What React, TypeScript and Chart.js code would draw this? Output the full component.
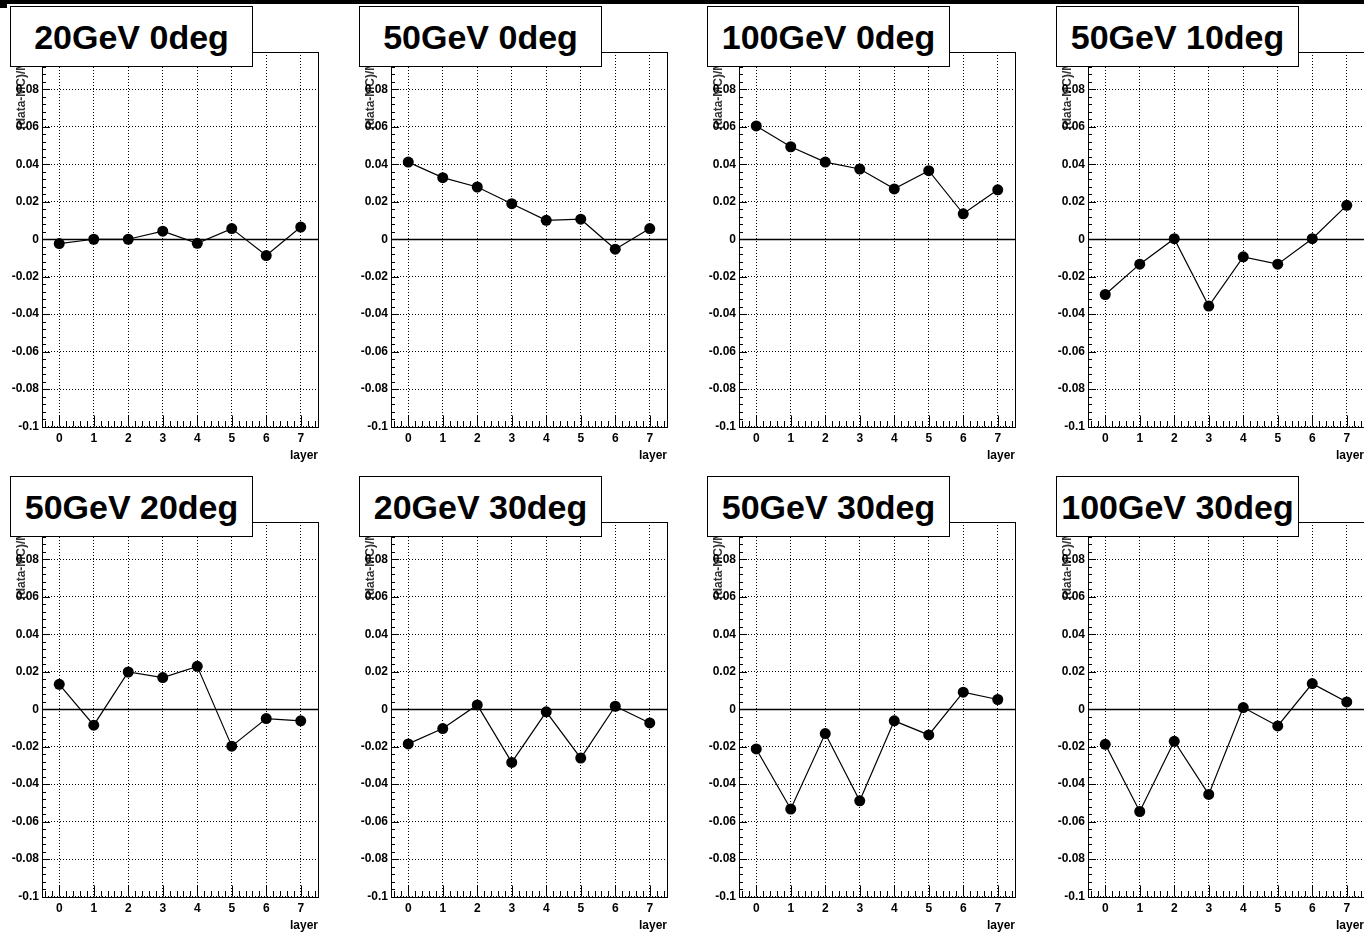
import React, { useEffect, useRef } from "react";
import { Chart, registerables } from "chart.js";

Chart.register(...registerables);
Chart.defaults.font.family = "'Liberation Sans', Arial, Helvetica, sans-serif";

// ---- data ----
const LAYERS = [0, 1, 2, 3, 4, 5, 6, 7];
const TITLES = [
  "20GeV 0deg",
  "50GeV 0deg",
  "100GeV 0deg",
  "50GeV 10deg",
  "50GeV 20deg",
  "20GeV 30deg",
  "50GeV 30deg",
  "100GeV 30deg",
];
const E20_DEG0 = [-0.0023, 0.0, 0.0, 0.0043, -0.0022, 0.0057, -0.0087, 0.0065];
const E50_DEG0 = [0.0412, 0.0329, 0.0279, 0.019, 0.0101, 0.0107, -0.0053, 0.0057];
const E100_DEG0 = [0.0605, 0.0494, 0.0412, 0.0375, 0.0269, 0.0366, 0.0136, 0.0264];
const E50_DEG10 = [-0.0295, -0.0133, 0.0003, -0.0357, -0.0094, -0.0133, 0.0003, 0.0181];
const E50_DEG20 = [0.0133, -0.0085, 0.0199, 0.0169, 0.0229, -0.0197, -0.005, -0.0062];
const E20_DEG30 = [-0.0185, -0.0103, 0.0023, -0.0284, -0.0014, -0.0261, 0.0016, -0.0073];
const E50_DEG30 = [-0.0212, -0.0533, -0.013, -0.0489, -0.0062, -0.0137, 0.0091, 0.0052];
const E100_DEG30 = [-0.0187, -0.0546, -0.0171, -0.0455, 0.0009, -0.0089, 0.0137, 0.0039];
const SERIES = [E20_DEG0, E50_DEG0, E100_DEG0, E50_DEG10, E50_DEG20, E20_DEG30, E50_DEG30, E100_DEG30];

const Y_MIN = -0.1;
const Y_MAX = 0.1;
const Y_STEP = 0.02;
const Y_MINOR = 0.004;
const X_MIN = -0.5;
const X_MAX = 7.5;
const X_MINOR = 0.2;
const X_TITLE = "layer";
const Y_TITLE = "(data-MC)/MC";

// ---- layout ----
const PANEL_W = 349;
const PANEL_PITCH_X = 348.7;
const PANEL_H = 470;

const rootFramePlugin = {
  id: "rootFrame",
  beforeDatasetsDraw(chart: any) {
    const { ctx, chartArea: a, scales } = chart;
    const y = scales.y;
    const yz = Math.round(y.getPixelForValue(0)) + 0.5;
    ctx.save();
    ctx.strokeStyle = "#000";
    ctx.lineWidth = 1.5;
    ctx.beginPath();
    ctx.moveTo(a.left, yz);
    ctx.lineTo(a.right, yz);
    ctx.stroke();
    ctx.restore();
  },
  afterDatasetsDraw(chart: any) {
    const { ctx, chartArea: a, scales } = chart;
    const x = scales.x;
    const y = scales.y;
    ctx.save();
    ctx.strokeStyle = "#000";
    ctx.lineWidth = 1;
    ctx.strokeRect(Math.round(a.left) + 0.5, Math.round(a.top) + 0.5, Math.round(a.right - a.left), Math.round(a.bottom - a.top));
    ctx.beginPath();
    const kx0 = Math.ceil(X_MIN / X_MINOR - 1e-6);
    const kx1 = Math.floor(X_MAX / X_MINOR + 1e-6);
    for (let k = kx0; k <= kx1; k++) {
      const v = k * X_MINOR;
      const px = Math.round(x.getPixelForValue(v)) + 0.5;
      const len = k % 5 === 0 ? 11 : 5.5;
      ctx.moveTo(px, a.bottom);
      ctx.lineTo(px, a.bottom - len);
    }
    const ky0 = Math.ceil(Y_MIN / Y_MINOR - 1e-6);
    const ky1 = Math.floor(Y_MAX / Y_MINOR + 1e-6);
    for (let k = ky0; k <= ky1; k++) {
      const v = k * Y_MINOR;
      const py = Math.round(y.getPixelForValue(v)) + 0.5;
      const len = k % 5 === 0 ? 8 : 4;
      ctx.moveTo(a.left, py);
      ctx.lineTo(a.left + len, py);
    }
    ctx.stroke();
    ctx.restore();
  },
};

function fmt(v: number) {
  const s = String(parseFloat(Number(v).toFixed(3)));
  return s === "-0" ? "0" : s;
}

function Panel({ title, values, left, top }: { title: string; values: number[]; left: number; top: number }) {
  const ref = useRef<HTMLCanvasElement | null>(null);
  useEffect(() => {
    if (!ref.current) return;
    const chart = new Chart(ref.current, {
      type: "line",
      data: {
        datasets: [
          {
            data: LAYERS.map((l, i) => ({ x: l, y: values[i] })),
            borderColor: "#000",
            borderWidth: 1.2,
            backgroundColor: "#000",
            pointBackgroundColor: "#000",
            pointBorderColor: "#000",
            pointBorderWidth: 0,
            pointRadius: 5.5,
            tension: 0,
            fill: false,
          },
        ],
      },
      options: {
        animation: false,
        responsive: false,
        devicePixelRatio: 1,
        layout: { padding: { left: 0, right: 31, top: 52, bottom: 0 } },
        plugins: {
          legend: { display: false },
          tooltip: { enabled: false },
          title: { display: false },
        },
        scales: {
          x: {
            type: "linear",
            min: X_MIN,
            max: X_MAX,
            afterBuildTicks: (s: any) => {
              s.ticks = LAYERS.map((v) => ({ value: v }));
            },
            afterFit: (s: any) => {
              s.height = 43.5;
            },
            grid: { color: "#000", lineWidth: 1, drawTicks: false },
            border: { display: false, dash: [1, 2] },
            ticks: {
              color: "#000",
              font: { size: 12, weight: "bold" },
              padding: 5,
              autoSkip: false,
              maxRotation: 0,
              callback: (v: any) => String(v),
            },
            title: {
              display: true,
              text: X_TITLE,
              align: "end",
              color: "#000",
              font: { size: 12, weight: "bold" },
              padding: { top: 0, bottom: 7 },
            },
          },
          y: {
            type: "linear",
            min: Y_MIN,
            max: Y_MAX,
            afterFit: (s: any) => {
              s.width = 42;
            },
            grid: { color: "#000", lineWidth: 1, drawTicks: false },
            border: { display: false, dash: [1, 2] },
            ticks: {
              stepSize: Y_STEP,
              color: "#000",
              font: { size: 12, weight: "bold" },
              padding: 3,
              autoSkip: false,
              callback: (v: any) => fmt(v),
            },
            title: {
              display: true,
              text: Y_TITLE,
              align: "end",
              color: "#333",
              font: { size: 12, weight: "bold" },
              padding: { top: 14, bottom: 0 },
            },
          },
        },
      } as any,
      plugins: [rootFramePlugin],
    });
    return () => chart.destroy();
  }, [values]);

  return (
    <div style={{ position: "absolute", left, top, width: PANEL_W, height: PANEL_H }}>
      <canvas ref={ref} width={PANEL_W} height={PANEL_H} style={{ position: "absolute", left: 0, top: 0, width: PANEL_W, height: PANEL_H }} />
      <div
        style={{
          position: "absolute",
          left: 10,
          top: 6,
          width: 243,
          height: 61,
          boxSizing: "border-box",
          border: "1px solid #000",
          background: "#fff",
          textAlign: "center",
          fontFamily: "'Liberation Sans', Arial, sans-serif",
          fontWeight: "bold",
          fontSize: 34,
          lineHeight: "57px",
          paddingTop: 2,
          color: "#000",
          whiteSpace: "nowrap",
        }}
      >
        {title}
      </div>
    </div>
  );
}

export default function App() {
  return (
    <div style={{ position: "absolute", left: 0, top: 0, width: 1364, height: 932, overflow: "hidden", background: "#fff" }}>
      {TITLES.map((t, i) => {
        const col = i % 4;
        const row = Math.floor(i / 4);
        return <Panel key={t} title={t} values={SERIES[i]} left={Math.round(col * PANEL_PITCH_X)} top={row * PANEL_H} />;
      })}
      <div style={{ position: "absolute", left: 0, top: 0, width: 1364, height: 4, background: "#000" }} />
      <div style={{ position: "absolute", left: 0, top: 0, width: 7, height: 8, background: "#000" }} />
    </div>
  );
}
